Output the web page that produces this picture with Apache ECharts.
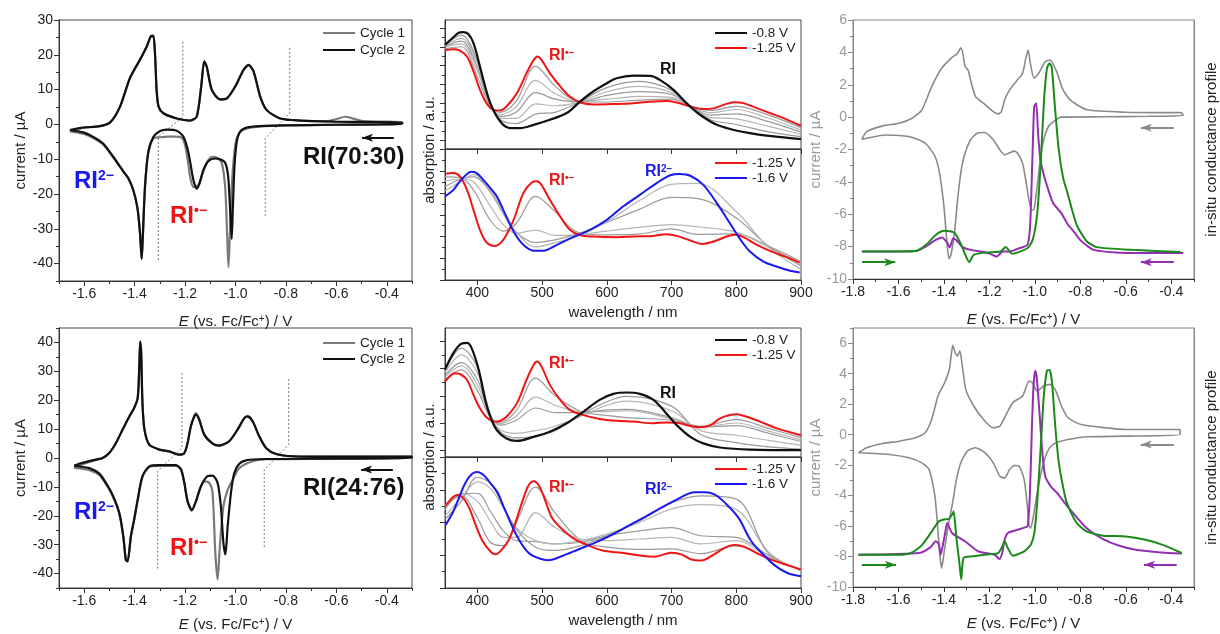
<!DOCTYPE html>
<html>
<head>
<meta charset="utf-8">
<script src="https://cdn.jsdelivr.net/npm/echarts@6/dist/echarts.min.js"></script>
<style>html,body{margin:0;padding:0;background:#fff;}#c{width:1220px;height:634px;}</style>
</head>
<body>
<div id="c"></div>
<script>
// ================= DATA =================
// --- CV, RI(70:30) ---
const cvA_cycle1 = [[-1.657,-2.0],[-1.604,-1.0],[-1.538,-0.5],[-1.498,0.5],[-1.458,5.0],[-1.419,13.2],[-1.379,18.5],[-1.352,22.3],[-1.336,25.2],[-1.326,25.4],[-1.319,20],[-1.313,10],[-1.305,5.0],[-1.286,3.2],[-1.233,1.7],[-1.18,1.1],[-1.154,2.2],[-1.136,10.9],[-1.124,18.0],[-1.114,16.5],[-1.094,9.9],[-1.061,7.2],[-1.034,7.5],[-1.001,10.9],[-0.968,15.6],[-0.948,17.0],[-0.928,15.1],[-0.902,8.0],[-0.876,4.1],[-0.823,1.7],[-0.743,1.1],[-0.64,0.9],[-0.6,1.5],[-0.565,2.2],[-0.53,1.6],[-0.49,0.9],[-0.42,0.8],[-0.339,0.7],
 [-0.339,0.2],[-0.611,-0.1],[-0.809,-0.3],[-0.902,-0.6],[-0.955,-1.2],[-0.985,-2.5],[-1.001,-6],[-1.015,-18],[-1.024,-35],[-1.028,-41],[-1.033,-32],[-1.041,-18],[-1.055,-11],[-1.075,-9.5],[-1.093,-9.3],[-1.11,-10.5],[-1.13,-14],[-1.147,-17.4],[-1.167,-18],[-1.18,-15],[-1.19,-10],[-1.2,-6],[-1.213,-3.8],[-1.24,-3.5],[-1.27,-3.5],[-1.3,-3.7],[-1.326,-4.0],[-1.346,-8.2],[-1.359,-18],[-1.368,-33],[-1.372,-38.5],[-1.379,-31],[-1.389,-24],[-1.405,-19],[-1.425,-15.5],[-1.445,-13.5],[-1.485,-9.5],[-1.525,-5.8],[-1.564,-3.9],[-1.604,-2.7],[-1.657,-2.0]];
const cvA_cycle2 = [[-1.657,-1.6],[-1.604,-0.9],[-1.538,-0.5],[-1.498,0.5],[-1.458,5.1],[-1.419,13.3],[-1.379,18.6],[-1.352,22.4],[-1.336,25.3],[-1.326,25.5],[-1.319,20],[-1.313,10],[-1.305,5.1],[-1.286,3.2],[-1.233,1.7],[-1.18,1.1],[-1.154,2.2],[-1.136,10.9],[-1.124,18.1],[-1.114,16.6],[-1.094,9.9],[-1.061,7.2],[-1.034,7.5],[-1.001,10.9],[-0.968,15.7],[-0.948,17.1],[-0.928,15.2],[-0.902,8.0],[-0.876,4.1],[-0.823,1.7],[-0.743,1.1],[-0.611,0.8],[-0.478,0.7],[-0.339,0.6],
 [-0.339,0.1],[-0.611,-0.1],[-0.809,-0.3],[-0.902,-0.5],[-0.955,-0.9],[-0.981,-2.0],[-0.995,-5],[-1.004,-12],[-1.011,-25],[-1.015,-32.9],[-1.021,-25],[-1.029,-15],[-1.041,-11],[-1.061,-10],[-1.081,-9.8],[-1.107,-10.5],[-1.127,-13],[-1.143,-17],[-1.154,-18.5],[-1.167,-16],[-1.187,-8],[-1.207,-3.5],[-1.233,-1.8],[-1.273,-1.5],[-1.299,-1.9],[-1.326,-3.6],[-1.346,-8],[-1.359,-18],[-1.368,-33],[-1.372,-38.7],[-1.379,-31],[-1.389,-24],[-1.405,-19],[-1.425,-15.5],[-1.445,-13.5],[-1.485,-9.3],[-1.525,-5.5],[-1.564,-3.6],[-1.604,-2.3],[-1.657,-1.6]];
const cvA_guide1 = [[-1.209,23.8],[-1.209,2.2],[-1.306,-3.6],[-1.306,-39]];
const cvA_guide2 = [[-0.785,22],[-0.785,3.2],[-0.882,-4],[-0.882,-26.6]];
const cvA_arrow = [[-0.372,-3.85],[-0.498,-3.85]];

// --- CV, RI(24:76) ---
const cvB_cycle1 = [[-1.64,-3.4],[-1.62,-2.6],[-1.567,-1.0],[-1.527,0],[-1.501,1.7],[-1.474,5.2],[-1.448,9.8],[-1.421,14.4],[-1.402,17.3],[-1.388,20.7],[-1.382,30.5],[-1.378,40.3],[-1.374,36.3],[-1.369,19],[-1.361,9.8],[-1.342,4.6],[-1.302,2.9],[-1.263,2.3],[-1.223,1.15],[-1.203,1.7],[-1.19,5.2],[-1.177,11],[-1.163,14.8],[-1.157,15.5],[-1.144,13.5],[-1.124,8.1],[-1.091,5.0],[-1.064,4.3],[-1.025,5.8],[-0.992,9.8],[-0.965,13.8],[-0.952,14.4],[-0.932,12.7],[-0.906,7.5],[-0.879,3.5],[-0.839,1.4],[-0.773,0.6],[-0.615,0.46],[-0.3,0.46],
 [-0.3,0],[-0.615,-0.25],[-0.879,-0.4],[-0.932,-1.15],[-0.985,-3.5],[-1.011,-7.5],[-1.031,-11],[-1.048,-16.7],[-1.062,-30.5],[-1.071,-42],[-1.08,-33],[-1.091,-12.1],[-1.104,-8.6],[-1.124,-8.1],[-1.137,-9.8],[-1.157,-15],[-1.173,-18.1],[-1.19,-15],[-1.203,-8.6],[-1.216,-4.0],[-1.236,-2.7],[-1.302,-2.7],[-1.342,-3.1],[-1.369,-6.5],[-1.388,-14.6],[-1.402,-21.5],[-1.415,-27.3],[-1.428,-35.9],[-1.435,-35.4],[-1.445,-27.3],[-1.461,-19.2],[-1.488,-13],[-1.514,-9],[-1.54,-5.9],[-1.58,-4.2],[-1.62,-3.6],[-1.64,-3.4]];
const cvB_cycle2 = [[-1.64,-2.65],[-1.62,-2.0],[-1.567,-0.8],[-1.527,0],[-1.501,1.7],[-1.474,5.2],[-1.448,9.8],[-1.421,14.4],[-1.402,17.3],[-1.388,20.7],[-1.382,30.5],[-1.378,40.3],[-1.374,36.3],[-1.369,19],[-1.361,9.8],[-1.342,4.6],[-1.302,2.9],[-1.263,2.3],[-1.223,1.15],[-1.203,1.7],[-1.19,5.2],[-1.177,11],[-1.163,14.4],[-1.157,15],[-1.144,13.3],[-1.124,8.1],[-1.091,5.0],[-1.064,4.3],[-1.025,5.8],[-0.992,9.8],[-0.965,13.8],[-0.952,14.4],[-0.932,12.7],[-0.906,7.5],[-0.879,3.5],[-0.839,1.4],[-0.773,0.6],[-0.615,0.46],[-0.3,0.46],
 [-0.3,0],[-0.615,-0.23],[-0.879,-0.35],[-0.958,-0.8],[-0.985,-2.0],[-1.005,-5.2],[-1.018,-12.1],[-1.031,-23.6],[-1.04,-33.4],[-1.048,-29.4],[-1.058,-16.7],[-1.071,-8.6],[-1.091,-6.1],[-1.111,-6.3],[-1.137,-9.8],[-1.157,-15],[-1.173,-18.1],[-1.19,-15],[-1.203,-8.6],[-1.216,-4.0],[-1.236,-2.5],[-1.302,-2.5],[-1.342,-2.9],[-1.369,-6.3],[-1.388,-14.4],[-1.402,-21.3],[-1.415,-27.1],[-1.428,-35.7],[-1.435,-35.2],[-1.445,-27.1],[-1.461,-19],[-1.488,-12.7],[-1.514,-8.6],[-1.54,-5.4],[-1.58,-3.5],[-1.62,-2.9],[-1.64,-2.65]];
const cvB_guide1 = [[-1.212,29.4],[-1.212,3.5],[-1.309,-4.6],[-1.309,-38.4]];
const cvB_guide2 = [[-0.789,27.3],[-0.789,4.6],[-0.886,-4],[-0.886,-31.1]];
const cvB_arrow = [[-0.376,-4.0],[-0.502,-4.0]];

// --- Spectra, RI(70:30), -0.8 V -> -1.25 V ---
const specA1_black = [[350,5.1],[363,5.51],[373,5.77],[378,5.78],[386,5.68],[394,5.19],[404,3.94],[412,2.88],[420,1.99],[430,1.28],[440,0.83],[450,0.66],[466,0.66],[487,0.83],[512,1.1],[538,1.46],[559,2.08],[579,2.61],[600,3.05],[615,3.32],[641,3.46],[667,3.45],[682,3.23],[703,2.7],[723,1.99],[744,1.37],[770,0.83],[795,0.57],[821,0.39],[847,0.25],[873,0.16],[900,0.07]];
const specA1_red = [[350,4.83],[363,4.87],[373,4.8],[384,4.48],[394,3.68],[404,2.7],[414,1.99],[425,1.63],[435,1.6],[445,1.81],[461,2.52],[476,3.59],[487,4.3],[493,4.48],[499,4.3],[512,3.59],[528,2.88],[543,2.34],[559,2.02],[579,1.92],[615,1.95],[641,1.99],[672,2.08],[692,2.11],[708,2.02],[729,1.81],[749,1.67],[765,1.71],[785,1.95],[798,2.04],[811,1.99],[832,1.72],[852,1.46],[873,1.19],[900,0.78]];
const specA1_wl = [350,375,400,420,435,460,490,520,555,600,650,700,730,760,800,850,900];
const specA1_gray = [
 [4.9,5.0,3.4,1.8,1.5,2.1,3.95,2.9,2.1,2.05,2.15,2.2,1.82,1.6,1.82,1.35,0.68],
 [5.0,5.15,3.7,1.82,1.38,1.8,3.2,2.5,2.08,2.2,2.35,2.3,1.82,1.48,1.65,1.18,0.55],
 [5.02,5.3,3.9,1.85,1.28,1.5,2.55,2.2,2.05,2.4,2.6,2.45,1.82,1.35,1.42,1.0,0.44],
 [5.05,5.45,4.1,1.88,1.18,1.18,1.95,1.85,2.02,2.6,2.88,2.55,1.8,1.22,1.15,0.75,0.33],
 [5.08,5.62,4.25,1.92,1.1,0.9,1.4,1.5,2.0,2.82,3.15,2.68,1.8,1.1,0.85,0.45,0.2]];
// --- Spectra, RI(70:30), -1.25 V -> -1.6 V ---
const specA2_red = [[350,3.89],[363,3.92],[373,3.77],[384,3.15],[394,2.23],[404,1.31],[414,0.74],[427,0.57],[440,0.85],[456,1.77],[471,3.0],[484,3.49],[492,3.54],[499,3.38],[512,2.69],[528,1.92],[543,1.31],[559,1.06],[579,1.0],[615,0.97],[641,1.0],[672,1.03],[692,1.11],[708,1.03],[729,0.82],[747,0.66],[765,0.77],[785,1.0],[798,1.08],[811,0.97],[832,0.62],[857,0.28],[878,0.05],[898,-0.2]];
const specA2_blue = [[350,2.85],[363,3.15],[373,3.54],[384,3.88],[391,3.98],[399,3.92],[409,3.62],[420,3.23],[430,2.85],[440,2.23],[456,1.23],[471,0.62],[487,0.35],[502,0.35],[523,0.62],[548,0.97],[574,1.31],[600,1.77],[625,2.38],[651,2.92],[677,3.46],[698,3.82],[713,3.88],[729,3.8],[749,3.38],[770,2.54],[790,1.62],[806,0.88],[821,0.31],[842,-0.15],[862,-0.38],[883,-0.57],[898,-0.65]];
const specA2_wl = [350,375,395,420,440,460,490,520,555,600,650,700,740,800,850,900];
const specA2_gray = [
 [3.75,3.7,3.1,1.75,1.25,1.6,2.85,2.15,1.2,1.08,1.12,1.35,1.1,1.12,0.55,-0.15],
 [3.55,3.65,3.5,2.4,1.55,1.15,1.3,1.05,1.08,1.25,1.42,1.55,1.45,1.2,0.5,-0.25],
 [3.3,3.65,3.75,3.05,2.05,1.2,0.72,0.85,1.12,1.65,2.25,2.8,2.75,1.85,0.55,-0.35],
 [3.1,3.55,3.85,3.15,2.2,1.22,0.52,0.72,1.02,1.68,2.65,3.4,3.45,2.15,0.5,-0.5]];

// --- Spectra, RI(24:76), -0.8 V -> -1.25 V ---
const specB1_black = [[350,2.96],[363,3.57],[376,3.92],[384,3.94],[391,3.76],[402,2.96],[412,1.85],[420,1.23],[430,0.74],[445,0.43],[461,0.34],[487,0.49],[512,0.68],[538,0.99],[564,1.42],[589,1.85],[610,2.07],[631,2.12],[651,2.07],[672,1.85],[692,1.35],[708,0.92],[729,0.49],[749,0.25],[775,0.1],[821,0.02],[900,0]];
const specB1_red = [[350,2.52],[358,2.73],[365,2.83],[373,2.8],[384,2.59],[394,2.03],[404,1.54],[414,1.21],[427,1.05],[435,1.08],[445,1.23],[461,1.72],[476,2.59],[487,3.14],[492,3.26],[499,3.08],[512,2.4],[528,1.85],[543,1.48],[564,1.29],[589,1.15],[615,1.08],[641,1.05],[672,0.99],[692,1.02],[708,1.01],[729,0.89],[744,0.84],[760,0.92],[775,1.17],[790,1.29],[801,1.32],[816,1.23],[837,1.05],[863,0.8],[900,0.55]];
const specB1_wl = [350,375,400,420,435,460,490,520,560,600,630,700,745,800,850,900];
const specB1_gray = [
 [2.6,2.95,2.2,1.2,1.02,1.45,2.65,2.0,1.42,1.28,1.2,1.1,0.88,1.12,0.8,0.46],
 [2.68,3.1,2.4,1.25,0.98,1.25,1.95,1.65,1.42,1.42,1.45,1.15,0.85,1.0,0.7,0.38],
 [2.75,3.22,2.6,1.3,0.92,1.1,1.55,1.38,1.38,1.48,1.5,1.2,0.85,0.9,0.62,0.32],
 [2.85,3.5,2.85,1.32,0.75,0.62,0.72,0.88,1.25,1.65,1.8,1.45,0.72,0.55,0.36,0.18],
 [2.9,3.75,3.05,1.3,0.68,0.45,0.52,0.72,1.3,1.78,1.98,1.62,0.58,0.28,0.12,0.04]];
// --- Spectra, RI(24:76), -1.25 V -> -1.6 V ---
const specB2_red = [[351,1.52],[362,1.78],[369,1.85],[377,1.78],[387,1.47],[397,0.95],[408,0.44],[421,0.1],[428,0.03],[438,0.18],[449,0.49],[459,1.01],[469,1.62],[479,2.14],[487,2.27],[495,2.14],[505,1.67],[515,1.16],[531,0.8],[551,0.49],[577,0.26],[597,0.13],[623,0.08],[649,0.0],[674,-0.04],[700,0.08],[715,0.03],[731,-0.13],[746,-0.16],[762,-0.02],[782,0.23],[797,0.32],[813,0.26],[833,0.05],[854,-0.13],[879,-0.3],[900,-0.43]];
const specB2_blue = [[351,0.93],[362,1.31],[372,1.78],[382,2.24],[392,2.5],[400,2.55],[410,2.45],[421,2.19],[431,1.93],[441,1.47],[451,1.01],[464,0.49],[479,0.08],[495,-0.09],[510,-0.15],[531,-0.02],[556,0.18],[582,0.39],[608,0.63],[633,0.9],[659,1.18],[685,1.47],[710,1.73],[736,1.93],[751,1.93],[767,1.86],[782,1.62],[803,1.16],[823,0.44],[844,-0.02],[859,-0.3],[879,-0.54],[900,-0.64]];
const specB2_wl = [350,375,400,420,440,460,490,520,560,600,650,700,745,800,850,900];
const specB2_gray = [
 [1.55,1.82,1.15,0.4,0.3,1.0,2.09,1.3,0.45,0.25,0.18,0.2,0.05,0.3,-0.1,-0.44],
 [1.5,1.9,1.65,1.05,0.55,0.55,1.31,0.85,0.5,0.45,0.5,0.55,0.35,0.45,-0.05,-0.45],
 [1.4,1.88,1.9,1.35,0.75,0.45,0.42,0.35,0.4,0.6,0.75,0.85,0.6,0.55,0.0,-0.48],
 [1.2,1.75,2.25,2.05,1.45,0.85,0.45,0.35,0.45,0.65,1.0,1.42,1.55,1.4,0.1,-0.48],
 [1.1,1.65,2.39,2.2,1.5,0.8,0.25,0.15,0.3,0.6,1.05,1.6,1.82,1.72,0.05,-0.45]];

// --- In-situ conductance, RI(70:30) ---
const condA_cv = [[-1.761,-1.37],[-1.74,-0.9],[-1.669,-0.54],[-1.597,-0.38],[-1.54,-0.07],[-1.497,0.44],[-1.454,1.88],[-1.411,3.0],[-1.369,3.63],[-1.34,3.94],[-1.326,4.29],[-1.317,3.94],[-1.307,3.12],[-1.294,2.91],[-1.283,2.3],[-1.261,1.27],[-1.226,0.86],[-1.183,0.34],[-1.161,0.2],[-1.147,0.34],[-1.133,1.06],[-1.111,1.68],[-1.083,2.19],[-1.054,2.71],[-1.04,3.63],[-1.03,4.15],[-1.021,3.43],[-1.004,2.4],[-0.983,2.71],[-0.954,3.43],[-0.933,3.53],[-0.904,2.81],[-0.876,1.68],[-0.84,1.0],[-0.769,0.45],[-0.597,0.3],[-0.454,0.28],[-0.357,0.28],
 [-0.347,0.1],[-0.5,0.05],[-0.7,0.02],[-0.883,0],[-0.911,-0.2],[-0.94,-0.58],[-0.961,-1.4],[-0.976,-2.6],[-0.99,-4.3],[-1.004,-5.7],[-1.014,-5.75],[-1.026,-5.1],[-1.04,-3.9],[-1.054,-2.85],[-1.076,-2.23],[-1.09,-2.1],[-1.111,-2.2],[-1.133,-2.33],[-1.154,-2.02],[-1.183,-1.4],[-1.219,-0.95],[-1.254,-1.0],[-1.283,-1.4],[-1.311,-2.4],[-1.326,-3.47],[-1.34,-5.1],[-1.354,-7.2],[-1.369,-8.5],[-1.378,-8.75],[-1.39,-7.2],[-1.4,-5.5],[-1.419,-3.47],[-1.44,-2.4],[-1.483,-1.6],[-1.554,-1.2],[-1.654,-1.1],[-1.761,-1.37]];
const condA_forward = [[-1.761,-8.3],[-1.597,-8.3],[-1.52,-8.25],[-1.48,-7.9],[-1.44,-7.33],[-1.415,-7.08],[-1.395,-7.02],[-1.375,-7.05],[-1.353,-7.15],[-1.325,-7.85],[-1.3,-8.7],[-1.289,-8.96],[-1.268,-8.5],[-1.21,-8.36],[-1.152,-8.3],[-1.128,-8.03],[-1.1,-8.44],[-1.033,-8.1],[-1.01,-7.6],[-0.99,-6.0],[-0.975,-3.0],[-0.96,1.0],[-0.947,3.0],[-0.936,3.33],[-0.926,3.1],[-0.911,0.5],[-0.895,-2.0],[-0.875,-3.8],[-0.856,-4.7],[-0.835,-5.8],[-0.813,-6.76],[-0.771,-7.68],[-0.729,-8.03],[-0.572,-8.2],[-0.359,-8.33]];
const condA_reverse = [[-0.347,-8.4],[-0.454,-8.4],[-0.643,-8.36],[-0.742,-8.2],[-0.77,-7.95],[-0.8,-7.6],[-0.827,-7.1],[-0.854,-6.65],[-0.884,-5.93],[-0.92,-5.3],[-0.941,-4.49],[-0.962,-3.5],[-0.976,-2.6],[-0.986,-0.99],[-0.994,0.86],[-1.003,0.65],[-1.011,-2.64],[-1.021,-6.76],[-1.033,-7.89],[-1.069,-8.1],[-1.111,-8.3],[-1.14,-8.3],[-1.168,-8.61],[-1.204,-8.4],[-1.282,-8.2],[-1.318,-8.03],[-1.345,-7.6],[-1.36,-7.5],[-1.374,-8.05],[-1.388,-7.7],[-1.409,-7.43],[-1.438,-7.6],[-1.48,-8.0],[-1.52,-8.27],[-1.761,-8.3]];
const condA_arrowCV = [[-0.389,-0.65],[-0.534,-0.65]];
const condA_arrowFwd = [[-1.76,-8.96],[-1.614,-8.96]];
const condA_arrowRev = [[-0.389,-8.96],[-0.534,-8.96]];

// --- In-situ conductance, RI(24:76) ---
const condB_cv = [[-1.776,-1.19],[-1.74,-0.86],[-1.669,-0.58],[-1.597,-0.43],[-1.526,-0.21],[-1.483,0.12],[-1.454,1.0],[-1.426,2.54],[-1.397,3.41],[-1.376,4.29],[-1.361,5.87],[-1.351,5.39],[-1.34,5.17],[-1.33,5.5],[-1.321,4.73],[-1.304,2.97],[-1.269,1.88],[-1.226,1.0],[-1.183,0.45],[-1.154,0.56],[-1.126,1.33],[-1.097,2.1],[-1.054,2.54],[-1.026,3.52],[-1.011,3.41],[-0.99,2.86],[-0.961,3.19],[-0.933,3.3],[-0.911,2.97],[-0.883,1.88],[-0.854,1.11],[-0.797,0.67],[-0.597,0.34],[-0.361,0.34],
 [-0.361,0.01],[-0.597,-0.1],[-0.769,-0.14],[-0.854,-0.32],[-0.897,-0.49],[-0.926,-0.71],[-0.947,-1.19],[-0.969,-2.29],[-0.99,-3.82],[-1.009,-5.58],[-1.019,-6.14],[-1.026,-5.91],[-1.033,-4.7],[-1.047,-2.95],[-1.069,-2.07],[-1.09,-2.03],[-1.111,-2.29],[-1.133,-2.84],[-1.154,-2.73],[-1.183,-1.85],[-1.219,-1.19],[-1.261,-0.86],[-1.297,-1.08],[-1.326,-1.85],[-1.347,-3.1],[-1.362,-4.5],[-1.379,-5.8],[-1.392,-7.0],[-1.4,-7.8],[-1.41,-8.76],[-1.416,-8.2],[-1.424,-6.8],[-1.43,-5.58],[-1.44,-4.0],[-1.465,-2.3],[-1.497,-1.85],[-1.554,-1.52],[-1.64,-1.3],[-1.776,-1.19]];
const condB_forward = [[-1.776,-7.88],[-1.597,-7.88],[-1.545,-7.77],[-1.5,-7.3],[-1.46,-6.5],[-1.422,-5.69],[-1.395,-5.55],[-1.379,-5.54],[-1.362,-5.2],[-1.357,-5.03],[-1.345,-6.8],[-1.332,-8.43],[-1.324,-9.5],[-1.314,-8.1],[-1.279,-7.99],[-1.2,-7.85],[-1.162,-7.77],[-1.145,-7.4],[-1.133,-7.0],[-1.119,-7.44],[-1.097,-7.95],[-1.047,-7.66],[-1.018,-7.22],[-1.003,-6.5],[-0.99,-4.5],[-0.975,-1.0],[-0.961,2.5],[-0.947,4.2],[-0.935,4.25],[-0.925,3.5],[-0.91,0.5],[-0.895,-1.8],[-0.875,-3.5],[-0.859,-4.48],[-0.816,-5.8],[-0.773,-6.35],[-0.7,-6.63],[-0.6,-6.68],[-0.513,-6.9],[-0.441,-7.22],[-0.354,-7.77]];
const condB_reverse = [[-0.354,-7.8],[-0.412,-7.77],[-0.556,-7.55],[-0.628,-7.29],[-0.7,-6.85],[-0.773,-6.13],[-0.845,-4.92],[-0.903,-3.82],[-0.93,-3.4],[-0.955,-2.7],[-0.968,-1.0],[-0.98,1.5],[-0.992,3.8],[-0.998,4.2],[-1.006,3.2],[-1.014,0.0],[-1.022,-4.0],[-1.03,-5.8],[-1.033,-6.02],[-1.076,-6.24],[-1.119,-6.46],[-1.135,-7.0],[-1.141,-7.6],[-1.155,-8.17],[-1.177,-7.88],[-1.249,-7.66],[-1.307,-7.0],[-1.364,-6.46],[-1.386,-5.8],[-1.395,-6.5],[-1.408,-7.5],[-1.415,-7.88],[-1.422,-7.22],[-1.436,-7.0],[-1.46,-7.4],[-1.509,-7.77],[-1.776,-7.88]];
const condB_arrowCV = [[-0.389,-0.64],[-0.534,-0.64]];
const condB_arrowFwd = [[-1.761,-8.54],[-1.611,-8.54]];
const condB_arrowRev = [[-0.376,-8.54],[-0.52,-8.54]];

// --- tick values ---
const cvXMajor = [-1.6,-1.4,-1.2,-1.0,-0.8,-0.6,-0.4];
const cvXMinor = [-1.7,-1.5,-1.3,-1.1,-0.9,-0.7,-0.5,-0.3];
const cvAYMajor = [-40,-30,-20,-10,0,10,20,30];
const cvAYMinor = [-45,-35,-25,-15,-5,5,15,25];
const cvBYMajor = [-40,-30,-20,-10,0,10,20,30,40];
const cvBYMinor = [-45,-35,-25,-15,-5,5,15,25,35,45];
const specXMajor = [400,500,600,700,800,900];
const condXMajor = [-1.8,-1.6,-1.4,-1.2,-1.0,-0.8,-0.6,-0.4];
const condXMinor = [-1.7,-1.5,-1.3,-1.1,-0.9,-0.7,-0.5,-0.3];
const condYMajor = [-10,-8,-6,-4,-2,0,2,4,6];
const condYMinor = [-9,-7,-5,-3,-1,1,3,5,7];

// ================= BUILD =================
const FONT = '"Liberation Sans", Arial, Helvetica, sans-serif';
const RED = '#f01414', BLUE = '#1a1aee', GREEN = '#1b8a1b', PURPLE = '#9230b0';
const nameRich = {i:{fontStyle:'italic', fontSize:15, fontFamily:FONT, color:'#222'}, s:{fontSize:10, verticalAlign:'top', fontFamily:FONT, color:'#222'}, n:{fontSize:15, fontFamily:FONT, color:'#222'}};
const E_NAME = '{i|E}{n| (vs. Fc/Fc}{s|+}{n|) / V}';

const grid = [
  {left:59, top:20, width:353, height:261},   // 0 CV A
  {left:445, top:20, width:356, height:129},  // 1 spec A upper
  {left:445, top:149, width:356, height:131}, // 2 spec A lower
  {left:853, top:20, width:351, height:259},  // 3 cond A
  {left:59, top:328, width:353, height:260},  // 4 CV B
  {left:445, top:328, width:356, height:129}, // 5 spec B upper
  {left:445, top:457, width:356, height:131}, // 6 spec B lower
  {left:853, top:328, width:351, height:259}  // 7 cond B
].map(g => Object.assign({show:true, borderColor:'#444', borderWidth:1, backgroundColor:'transparent', containLabel:false}, g));
grid[3].borderColor = '#888'; grid[7].borderColor = '#888';

const xAxis = [], yAxis = [], series = [];
function fmt1(v){ return v.toFixed(1); }
function fmt0(v){ return String(Math.round(v)); }
function addAxis(list, dim, g, min, max, majors, minors, o) {
  o = o || {};
  const idx = list.length;
  const col = o.lineColor || '#333';
  list.push({
    type:'value', gridIndex:g, min:min, max:max, position: o.position || (dim==='x'?'bottom':'left'),
    axisLine:{show:true, onZero:false, lineStyle:{color:col, width:1}},
    axisTick:{show:!!majors, customValues:majors||[], length:5, inside:false, lineStyle:{color:col}},
    axisLabel:{show:!!o.labels, customValues:majors||[], color:o.labelColor||'#222', fontSize:14, fontFamily:FONT, margin:6, formatter:o.fmt||fmt0},
    splitLine:{show:false},
    name:o.name||'', nameLocation:'middle', nameGap:o.nameGap||30, nameRotate:o.nameRotate,
    nameTextStyle:Object.assign({fontSize:15, fontFamily:FONT, color:o.nameColor||'#222', rich:nameRich}, o.nameStyle||{})
  });
  if (minors) list.push({
    type:'value', gridIndex:g, min:min, max:max, position: o.position || (dim==='x'?'bottom':'left'),
    axisLine:{show:false, onZero:false}, axisTick:{show:true, customValues:minors, length:3, lineStyle:{color:col}},
    axisLabel:{show:false}, splitLine:{show:false}
  });
  return idx;
}
function line(xi, yi, data, color, width, o) {
  o = o || {};
  series.push({
    type:'line', xAxisIndex:xi, yAxisIndex:yi, data:data, showSymbol:false, symbol:'none',
    smooth:o.smooth===undefined?0.25:o.smooth, clip:true, silent:true, animation:false,
    itemStyle:{color:color}, lineStyle:{color:color, width:width, type:o.type||'solid'},
    z:o.z||2, name:o.name||''
  });
}
function arrow(xi, yi, pts, color) {
  series.push({type:'line', xAxisIndex:xi, yAxisIndex:yi, data:[], silent:true, animation:false, name:'',
    markLine:{silent:true, animation:false, symbol:['none','arrow'], symbolSize:[6,11],
      label:{show:false}, lineStyle:{color:color, width:2, type:'solid'},
      data:[[{coord:pts[0]},{coord:pts[1]}]]}});
}
function zip(wl, vals){ return wl.map((w,i)=>[w, vals[i]]); }

// ---- CV panels ----
function cvPanel(g, ymin, ymax, yMaj, yMin, c1, c2, gd1, gd2, arr, nameGapX) {
  const xi = addAxis(xAxis,'x',g,-1.7,-0.3,cvXMajor,cvXMinor,{labels:true, fmt:fmt1, name:E_NAME, nameGap:nameGapX});
  const yi = addAxis(yAxis,'y',g,ymin,ymax,yMaj,yMin,{labels:true, name:'current / µA', nameGap:31});
  line(xi, yi, gd1, '#777', 1, {type:[2,2], smooth:false, z:1});
  line(xi, yi, gd2, '#777', 1, {type:[2,2], smooth:false, z:1});
  line(xi, yi, c1, '#7a7a7a', 2.2, {name:'Cycle 1', z:2});
  line(xi, yi, c2, '#111', 2.2, {name:'Cycle 2', z:3});
  arrow(xi, yi, arr, '#111');
}
cvPanel(0, -45, 30, cvAYMajor, cvAYMinor, cvA_cycle1, cvA_cycle2, cvA_guide1, cvA_guide2, cvA_arrow, 33);
cvPanel(4, -45, 45, cvBYMajor, cvBYMinor, cvB_cycle1, cvB_cycle2, cvB_guide1, cvB_guide2, cvB_arrow, 29);

// ---- Spectra panels ----
function specPanel(gU, gL, uMin, uMax, lMin, lMax, black, redU, wlU, grayU, redL, blueL, wlL, grayL) {
  const uTickMaj = [], uTickMin = [], lTickMaj = [], lTickMin = [];
  for (let v = Math.ceil(uMin); v <= uMax; v++) uTickMaj.push(v);
  for (let v = Math.ceil(uMin-0.5)+0.5; v <= uMax; v++) uTickMin.push(v);
  for (let v = Math.ceil(lMin); v <= lMax; v++) lTickMaj.push(v);
  for (let v = Math.ceil(lMin-0.5)+0.5; v <= lMax; v++) lTickMin.push(v);
  const xu = addAxis(xAxis,'x',gU,350,900,specXMajor,null,{labels:false});
  const yu = addAxis(yAxis,'y',gU,uMin,uMax,uTickMaj,uTickMin,{labels:false});
  const xl = addAxis(xAxis,'x',gL,350,900,specXMajor,null,{labels:true, name:'wavelength / nm', nameGap:25});
  const yl = addAxis(yAxis,'y',gL,lMin,lMax,lTickMaj,lTickMin,{labels:false});
  grayU.forEach((vals,i)=> line(xu, yu, zip(wlU, vals), i%2? '#b5b5b5':'#9a9a9a', 1.2, {smooth:0.35, z:1}));
  line(xu, yu, redU, RED, 2, {name:'-1.25 V', smooth:0.35, z:3});
  line(xu, yu, black, '#111', 2.2, {name:'-0.8 V', smooth:0.35, z:3});
  grayL.forEach((vals,i)=> line(xl, yl, zip(wlL, vals), i%2? '#b5b5b5':'#9a9a9a', 1.2, {smooth:0.35, z:1}));
  line(xl, yl, redL, RED, 2, {name:'-1.25 V', smooth:0.35, z:3});
  line(xl, yl, blueL, BLUE, 2, {name:'-1.6 V', smooth:0.35, z:3});
}
specPanel(1, 2, -0.46, 6.43, -1.0, 5.03, specA1_black, specA1_red, specA1_wl, specA1_gray, specA2_red, specA2_blue, specA2_wl, specA2_gray);
specPanel(5, 6, -0.25, 4.49, -1.0, 3.01, specB1_black, specB1_red, specB1_wl, specB1_gray, specB2_red, specB2_blue, specB2_wl, specB2_gray);

// ---- Conductance panels ----
function condPanel(g, ymax, cv, fwd, rev, aCV, aF, aR) {
  const xi = addAxis(xAxis,'x',g,-1.8,-0.3,condXMajor,condXMinor,{labels:true, fmt:fmt1, name:E_NAME, nameGap:g===3?33:29});
  const yi = addAxis(yAxis,'y',g,-10,ymax,condYMajor,condYMinor,{labels:true, labelColor:'#999', lineColor:'#888', name:'current / µA', nameColor:'#999', nameGap:25});
  const yr = addAxis(yAxis,'y',g,-10,ymax,null,null,{labels:false, position:'right', lineColor:'#888', name:'in-situ conductance profile', nameGap:10, nameRotate:90});
  line(xi, yi, cv, '#8a8a8a', 1.6, {z:1, smooth:0.2});
  line(xi, yr, fwd, GREEN, 2, {z:3, smooth:0.2});
  line(xi, yr, rev, PURPLE, 2, {z:2, smooth:0.2});
  arrow(xi, yi, aCV, '#8a8a8a');
  arrow(xi, yr, aF, GREEN);
  arrow(xi, yr, aR, PURPLE);
}
condPanel(3, 6, condA_cv, condA_forward, condA_reverse, condA_arrowCV, condA_arrowFwd, condA_arrowRev);
condPanel(7, 7, condB_cv, condB_forward, condB_reverse, condB_arrowCV, condB_arrowFwd, condB_arrowRev);

// ---- legends ----
function lg(names, left, top, gap) {
  return {data:names, left:left, top:top, orient:'vertical', icon:'rect', itemWidth:32, itemHeight:2,
    itemGap:gap, padding:0, selectedMode:false, textStyle:{fontSize:13.5, fontFamily:FONT, color:'#222', padding:[0,0,0,0]}};
}
const legend = [
  lg(['Cycle 1','Cycle 2'], 323, 26, 3),
  lg(['-0.8 V','-1.25 V'], 715, 26, 1),
  lg(['-1.25 V','-1.6 V'], 715, 156, 1),
  lg(['Cycle 1','Cycle 2'], 323, 336, 2),
  lg(['-0.8 V','-1.25 V'], 715, 333, 1),
  lg(['-1.25 V','-1.6 V'], 715, 462, 1)
];

// ---- text annotations ----
function txt(x, y, main, sup, color, size, supSize) {
  return {type:'text', x:x, y:y, silent:true, z:100, style:{
    text: sup ? '{a|'+main+'}{b|'+sup+'}' : '{a|'+main+'}',
    verticalAlign:'middle', align:'left',
    rich:{a:{fontSize:size, fontWeight:'bold', fontFamily:FONT, fill:color},
          b:{fontSize:supSize, fontWeight:'bold', fontFamily:FONT, fill:color, verticalAlign:'top'}}}};
}
function vtxt(x, y, s) {
  return {type:'text', x:x, y:y, rotation:Math.PI/2, silent:true, z:100,
    style:{text:s, fontSize:15, fontFamily:FONT, fill:'#222', align:'center', verticalAlign:'middle'}};
}
const graphic = [
  txt(303, 157, 'RI(70:30)', null, '#111', 24, 0),
  txt(74, 181, 'RI', '2−', BLUE, 24, 14),
  txt(170, 216, 'RI', '•−', RED, 24, 14),
  txt(549, 56, 'RI', '•−', RED, 16, 10),
  txt(660, 70, 'RI', null, '#111', 16, 0),
  txt(549, 181, 'RI', '•−', RED, 16, 10),
  txt(645, 172, 'RI', '2−', BLUE, 16, 10),
  txt(303, 488, 'RI(24:76)', null, '#111', 24, 0),
  txt(74, 512, 'RI', '2−', BLUE, 24, 14),
  txt(170, 548, 'RI', '•−', RED, 24, 14),
  txt(549, 364, 'RI', '•−', RED, 16, 10),
  txt(660, 394, 'RI', null, '#111', 16, 0),
  txt(549, 488, 'RI', '•−', RED, 16, 10),
  txt(645, 490, 'RI', '2−', BLUE, 16, 10),
  vtxt(430, 150, 'absorption / a.u.'),
  vtxt(430, 457, 'absorption / a.u.')
];

const chart = echarts.init(document.getElementById('c'), null, {renderer:'canvas', width:1220, height:634});
chart.setOption({
  backgroundColor:'#fff', animation:false,
  textStyle:{fontFamily:FONT},
  grid:grid, xAxis:xAxis, yAxis:yAxis, series:series, legend:legend, graphic:graphic
});
</script>
</body>
</html>
